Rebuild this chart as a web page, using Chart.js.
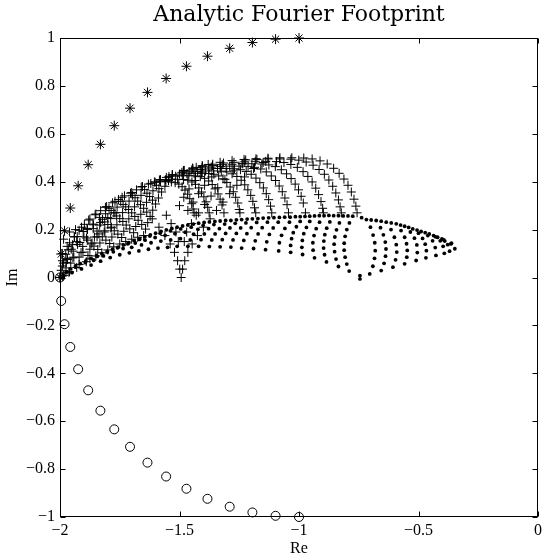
<!DOCTYPE html>
<html>
<head>
<meta charset="utf-8">
<script src="https://cdn.jsdelivr.net/npm/chart.js@4/dist/chart.umd.min.js"></script>
<style>
  html, body { margin: 0; padding: 0; background: #fff; }
  #c { display: block; }
</style>
</head>
<body>
<canvas id="c" width="546" height="560"></canvas>
<script>
// ---- tick labels ----
const xTicks = [-2, -1.5, -1, -0.5, 0];
const yTicks = [-1, -0.8, -0.6, -0.4, -0.2, 0, 0.2, 0.4, 0.6, 0.8, 1];

// ---- '*' series (upper quarter circle) ----
const starPts = [[-2,0],[-1.995,0.098],[-1.981,0.195],[-1.957,0.29],[-1.924,0.383],[-1.882,0.471],[-1.831,0.556],[-1.773,0.634],[-1.707,0.707],[-1.634,0.773],[-1.556,0.831],[-1.471,0.882],[-1.383,0.924],[-1.29,0.957],[-1.195,0.981],[-1.098,0.995],[-1,1]];
// ---- 'o' series (lower quarter circle) ----
const circlePts = [[-2,0],[-1.995,-0.098],[-1.981,-0.195],[-1.957,-0.29],[-1.924,-0.383],[-1.882,-0.471],[-1.831,-0.556],[-1.773,-0.634],[-1.707,-0.707],[-1.634,-0.773],[-1.556,-0.831],[-1.471,-0.882],[-1.383,-0.924],[-1.29,-0.957],[-1.195,-0.981],[-1.098,-0.995],[-1,-1]];

// ---- '+' series ----
const plusEnvelope = [[-1.99,0.07],[-1.97,0.13],[-1.94,0.17],[-1.91,0.21],[-1.88,0.24],[-1.85,0.265],[-1.81,0.293],[-1.77,0.318],[-1.74,0.335],[-1.70,0.355],[-1.66,0.378],[-1.62,0.393],[-1.58,0.408],[-1.53,0.428],[-1.48,0.447],[-1.43,0.46],[-1.38,0.472],[-1.33,0.481],[-1.28,0.488],[-1.23,0.493],[-1.18,0.496],[-1.13,0.498],[-1.08,0.5],[-1.03,0.5],[-0.98,0.499],[-0.945,0.495],[-0.912,0.487],[-0.882,0.474],[-0.855,0.456],[-0.832,0.435],[-0.812,0.411],[-0.795,0.385],[-0.781,0.357],[-0.77,0.327],[-0.762,0.298],[-0.757,0.27]];
const plusArcsA = [
 [-1.223,0.491],[-1.176,0.493],[-1.129,0.495],[-1.081,0.495],[-1.034,0.494],[-1.001,0.49],[-0.97,0.482],[-0.941,0.469],[-0.916,0.451],[-0.894,0.431],[-0.875,0.407],[-0.859,0.381],[-0.846,0.353],[-0.835,0.324],[-0.828,0.295],[-0.823,0.27],
 [-1.405,0.467],[-1.361,0.473],[-1.316,0.478],[-1.272,0.481],[-1.227,0.483],[-1.183,0.485],[-1.139,0.485],[-1.094,0.484],[-1.063,0.48],[-1.034,0.472],[-1.007,0.46],[-0.983,0.442],[-0.963,0.422],[-0.945,0.399],[-0.93,0.373],[-0.918,0.346],[-0.908,0.317],[-0.901,0.289],[-0.898,0.27],
 [-1.445,0.457],[-1.404,0.464],[-1.362,0.468],[-1.321,0.471],[-1.28,0.473],[-1.238,0.475],[-1.197,0.475],[-1.155,0.474],[-1.126,0.47],[-1.099,0.463],[-1.074,0.45],[-1.052,0.433],[-1.033,0.413],[-1.016,0.39],[-1.002,0.366],[-0.991,0.339],[-0.982,0.311],[-0.973,0.27],
 [-1.483,0.447],[-1.444,0.454],[-1.406,0.458],[-1.367,0.461],[-1.328,0.463],[-1.29,0.465],[-1.251,0.465],[-1.213,0.464],[-1.186,0.46],[-1.16,0.453],[-1.137,0.441],[-1.116,0.424],[-1.098,0.405],[-1.083,0.382],[-1.07,0.358],[-1.059,0.332],[-1.05,0.304],[-1.044,0.27],
 [-1.484,0.444],[-1.449,0.449],[-1.413,0.451],[-1.377,0.453],[-1.341,0.455],[-1.305,0.455],[-1.27,0.454],[-1.245,0.45],[-1.221,0.443],[-1.2,0.431],[-1.18,0.415],[-1.164,0.396],[-1.149,0.374],[-1.137,0.35],[-1.127,0.325],[-1.119,0.298],[-1.114,0.27]
];
const plusArcsB = [
 [-1.49,0.439],[-1.457,0.441],[-1.424,0.443],[-1.391,0.445],[-1.358,0.445],[-1.325,0.444],[-1.302,0.441],[-1.28,0.433],[-1.26,0.422],[-1.242,0.406],[-1.227,0.387],[-1.214,0.366],[-1.202,0.343],[-1.193,0.318],[-1.186,0.291],[-1.181,0.27],
 [-1.53,0.429],[-1.5,0.432],[-1.469,0.433],[-1.439,0.435],[-1.408,0.435],[-1.378,0.434],[-1.356,0.431],[-1.336,0.424],[-1.318,0.412],[-1.302,0.397],[-1.288,0.378],[-1.275,0.358],[-1.265,0.335],[-1.256,0.311],[-1.25,0.284],[-1.247,0.27],
 [-1.544,0.422],[-1.516,0.423],[-1.488,0.425],[-1.461,0.425],[-1.433,0.424],[-1.413,0.421],[-1.395,0.414],[-1.378,0.403],[-1.363,0.388],[-1.351,0.37],[-1.339,0.349],[-1.33,0.327],[-1.322,0.303],[-1.314,0.27],
 [-1.584,0.407],[-1.559,0.408],[-1.534,0.41],[-1.508,0.41],[-1.483,0.409],[-1.465,0.406],[-1.448,0.399],[-1.433,0.389],[-1.419,0.374],[-1.408,0.357],[-1.398,0.337],[-1.389,0.316],[-1.382,0.293],[-1.376,0.27],
 [-1.602,0.398],[-1.58,0.4],[-1.557,0.4],[-1.534,0.399],[-1.518,0.396],[-1.503,0.39],[-1.489,0.379],[-1.477,0.365],[-1.466,0.348],[-1.457,0.329],[-1.449,0.308],[-1.443,0.286],[-1.439,0.27]
];
const plusRising = [
 [-1.372,0.245],[-1.345,0.28],[-1.318,0.315],[-1.29,0.35],[-1.26,0.385],[-1.228,0.42],[-1.19,0.455],[-1.15,0.48],
 [-1.42,0.27],[-1.395,0.305],[-1.368,0.34],[-1.34,0.375],[-1.31,0.41],[-1.275,0.445],[-1.235,0.475],
 [-1.465,0.28],[-1.443,0.315],[-1.42,0.35],[-1.395,0.385],[-1.365,0.42],[-1.33,0.455],
 [-1.5,0.3],[-1.482,0.335],[-1.46,0.37],[-1.435,0.405],[-1.405,0.44]
];
const plusLeft = [
 [-1.53,0.428],[-1.546,0.405],[-1.561,0.381],[-1.575,0.357],[-1.588,0.332],[-1.6,0.307],[-1.612,0.281],[-1.623,0.255],[-1.633,0.229],[-1.642,0.202],[-1.65,0.175],
 [-1.58,0.408],[-1.596,0.385],[-1.611,0.362],[-1.625,0.338],[-1.638,0.314],[-1.65,0.289],[-1.662,0.264],[-1.673,0.239],[-1.683,0.213],[-1.692,0.187],[-1.70,0.16],
 [-1.63,0.39],[-1.646,0.367],[-1.661,0.343],[-1.675,0.319],[-1.688,0.295],[-1.7,0.27],[-1.712,0.245],[-1.723,0.219],[-1.733,0.193],[-1.742,0.167],[-1.75,0.14],
 [-1.68,0.366],[-1.696,0.343],[-1.711,0.319],[-1.725,0.295],[-1.738,0.271],[-1.75,0.246],[-1.762,0.22],[-1.773,0.195],[-1.783,0.169],[-1.792,0.142],[-1.80,0.115],
 [-1.73,0.341],[-1.746,0.318],[-1.761,0.294],[-1.775,0.27],[-1.788,0.246],[-1.8,0.221],[-1.812,0.195],[-1.823,0.17],[-1.833,0.144],[-1.842,0.117],[-1.85,0.09],
 [-1.78,0.312],[-1.795,0.289],[-1.809,0.266],[-1.822,0.243],[-1.834,0.219],[-1.845,0.194],[-1.856,0.169],[-1.866,0.144],[-1.875,0.118],[-1.883,0.092],[-1.89,0.066],
 [-1.83,0.279],[-1.862,0.223],[-1.889,0.165],[-1.912,0.104],[-1.93,0.042],
 [-1.875,0.244],[-1.903,0.192],[-1.927,0.138],[-1.946,0.082],[-1.96,0.024],
 [-1.92,0.197],[-1.948,0.137],[-1.969,0.075],[-1.985,0.009],
 [-1.96,0.145],[-1.976,0.097],[-1.99,0.048],[-2.0,0.0]
];
const plusLeftB = [
 [-1.555,0.418],[-1.586,0.371],[-1.613,0.323],[-1.637,0.273],[-1.658,0.221],[-1.675,0.168],
 [-1.605,0.399],[-1.636,0.352],[-1.663,0.304],[-1.687,0.255],[-1.708,0.203],[-1.725,0.15],
 [-1.655,0.38],[-1.686,0.333],[-1.713,0.284],[-1.737,0.234],[-1.758,0.181],[-1.775,0.128],
 [-1.705,0.352],[-1.736,0.305],[-1.763,0.257],[-1.787,0.207],[-1.808,0.156],[-1.825,0.103],
 [-1.755,0.326],[-1.786,0.28],[-1.813,0.232],[-1.837,0.182],[-1.858,0.131],[-1.875,0.078],
 [-1.805,0.296],[-1.835,0.251],[-1.861,0.204],[-1.884,0.156],[-1.904,0.106],[-1.92,0.054],
 [-1.853,0.262],[-1.887,0.205],[-1.917,0.146],[-1.942,0.085],[-1.963,0.022],
 [-1.898,0.222],[-1.928,0.171],[-1.953,0.118],[-1.974,0.063],[-1.99,0.006],
 [-1.94,0.17],[-1.965,0.116],[-1.985,0.06]
];
const plusEdge = [
 [-1.995,0.03],[-1.99,0.1],[-1.985,0.16],[-1.975,0.04],[-1.97,0.08],[-1.96,0.19],[-1.955,0.06],[-1.945,0.11],[-1.935,0.2],[-1.93,0.15],[-1.92,0.085],[-1.905,0.13],[-1.9,0.17],[-1.885,0.2],[-1.87,0.14],[-1.86,0.22],[-1.845,0.17],[-1.83,0.23],[-1.815,0.19],[-1.8,0.25],[-1.785,0.21],[-1.77,0.27]
];
const plusCusp = [
 [-1.493,0],[-1.487,0.035],[-1.478,0.07],[-1.465,0.105],[-1.447,0.14],[-1.425,0.175],[-1.40,0.21],
 [-1.499,0.035],[-1.508,0.07],[-1.521,0.105],[-1.539,0.14],[-1.561,0.175],[-1.586,0.21],[-1.614,0.245],
 [-1.48,0.15],[-1.505,0.15],[-1.47,0.19],[-1.515,0.19],[-1.45,0.225],[-1.535,0.225],[-1.43,0.26],[-1.555,0.26]
];

// ---- '.' series ----
const dotRight = [
 [-0.718,0.242],[-0.701,0.21],[-0.69,0.177],[-0.683,0.145],[-0.681,0.112],[-0.684,0.08],[-0.691,0.047],[-0.704,0.015],
 [-0.677,0.238],[-0.659,0.208],[-0.647,0.178],[-0.639,0.148],[-0.636,0.119],[-0.638,0.089],[-0.644,0.059],[-0.656,0.029],
 [-0.635,0.231],[-0.615,0.2],[-0.601,0.168],[-0.593,0.137],[-0.591,0.106],[-0.596,0.074],[-0.607,0.043],
 [-0.593,0.224],[-0.573,0.196],[-0.558,0.168],[-0.55,0.141],[-0.547,0.113],[-0.549,0.085],[-0.558,0.057],
 [-0.558,0.214],[-0.534,0.19],[-0.517,0.164],[-0.507,0.136],[-0.505,0.104],[-0.51,0.071],
 [-0.524,0.203],[-0.5,0.185],[-0.483,0.163],[-0.472,0.139],[-0.467,0.112],[-0.469,0.082],
 [-0.489,0.192],[-0.461,0.175],[-0.441,0.153],[-0.43,0.125],[-0.427,0.092],
 [-0.455,0.182],[-0.429,0.17],[-0.409,0.153],[-0.397,0.13],[-0.392,0.101],
 [-0.42,0.168],[-0.394,0.157],[-0.378,0.137],[-0.37,0.11],
 [-0.39,0.152],[-0.362,0.143],[-0.348,0.12],
 [-0.745,0.008],[-0.745,-0.006]
];
const dotLeftNear = [
 [-0.775,0.256],[-0.789,0.228],[-0.8,0.2],[-0.807,0.172],[-0.811,0.143],[-0.811,0.114],[-0.807,0.085],[-0.8,0.056],[-0.79,0.027],
 [-0.815,0.257],[-0.831,0.228],[-0.843,0.199],[-0.85,0.169],[-0.853,0.139],[-0.851,0.108],[-0.845,0.077],[-0.835,0.046],
 [-0.855,0.258],[-0.871,0.232],[-0.884,0.206],[-0.892,0.179],[-0.896,0.152],[-0.897,0.123],[-0.893,0.095],[-0.885,0.065],
 [-0.895,0.258],[-0.914,0.231],[-0.928,0.204],[-0.937,0.175],[-0.942,0.145],[-0.941,0.114],[-0.935,0.082],
 [-0.935,0.257],[-0.955,0.234],[-0.969,0.209],[-0.98,0.183],[-0.986,0.155],[-0.988,0.126],[-0.985,0.096],
 [-0.975,0.255],[-0.995,0.234],[-1.011,0.212],[-1.024,0.187],[-1.031,0.162],[-1.035,0.134],[-1.035,0.105],
 [-1.015,0.254],[-1.04,0.231],[-1.059,0.205],[-1.073,0.176],[-1.082,0.145],[-1.085,0.111],
 [-1.06,0.252],[-1.087,0.231],[-1.108,0.207],[-1.124,0.18],[-1.135,0.149],[-1.14,0.116],
 [-1.105,0.25],[-1.132,0.231],[-1.154,0.208],[-1.171,0.182],[-1.183,0.153],[-1.19,0.121],
 [-1.15,0.248],[-1.177,0.23],[-1.2,0.208],[-1.218,0.183],[-1.231,0.155],[-1.24,0.123]
];
const dotLeftFar = [
 [-1.195,0.245],[-1.222,0.228],[-1.244,0.207],[-1.262,0.184],[-1.276,0.157],[-1.285,0.127],
 [-1.24,0.242],[-1.267,0.226],[-1.289,0.207],[-1.307,0.184],[-1.321,0.158],[-1.33,0.128],
 [-1.285,0.238],[-1.311,0.223],[-1.333,0.204],[-1.351,0.182],[-1.365,0.157],[-1.375,0.129],
 [-1.33,0.236],[-1.356,0.221],[-1.378,0.204],[-1.396,0.182],[-1.41,0.158],[-1.42,0.13],
 [-1.375,0.232],[-1.401,0.218],[-1.423,0.201],[-1.441,0.181],[-1.455,0.157],[-1.465,0.13],
 [-1.42,0.227],[-1.451,0.21],[-1.476,0.189],[-1.496,0.162],[-1.51,0.13],
 [-1.465,0.219],[-1.495,0.203],[-1.519,0.183],[-1.537,0.157],[-1.55,0.126],
 [-1.51,0.21],[-1.538,0.195],[-1.56,0.176],[-1.578,0.152],[-1.59,0.123],
 [-1.555,0.199],[-1.581,0.185],[-1.602,0.167],[-1.619,0.145],[-1.63,0.118],
 [-1.6,0.185],[-1.624,0.173],[-1.644,0.156],[-1.659,0.136],[-1.67,0.111],
 [-1.645,0.17],[-1.667,0.159],[-1.685,0.144],[-1.7,0.126],[-1.71,0.103],
 [-1.69,0.154],[-1.716,0.141],[-1.736,0.121],[-1.75,0.095],
 [-1.735,0.136],[-1.759,0.124],[-1.777,0.107],[-1.79,0.083],
 [-1.78,0.118],[-1.802,0.106],[-1.818,0.09],[-1.83,0.068],
 [-1.825,0.1],[-1.844,0.088],[-1.859,0.072],[-1.87,0.052],
 [-1.87,0.08],[-1.894,0.062],[-1.91,0.036],
 [-1.915,0.058],[-1.935,0.043],[-1.95,0.02],
 [-1.955,0.036],[-1.972,0.024],[-1.985,0.008]
];
const dotTop = [
 [-0.738,0.25],[-0.698,0.24],[-0.656,0.235],[-0.614,0.228],[-0.575,0.219],[-0.541,0.209],[-0.506,0.198],[-0.472,0.187],[-0.437,0.175],[-0.402,0.161],[-0.365,0.14],
 [-0.795,0.257],[-0.835,0.258],[-0.875,0.259],[-0.915,0.258],[-0.955,0.256],[-0.995,0.254],[-1.037,0.252],[-1.082,0.251],[-1.127,0.249],[-1.172,0.246],[-1.217,0.244],[-1.262,0.241],[-1.307,0.238],[-1.352,0.234],[-1.397,0.23],[-1.442,0.223],[-1.487,0.215],[-1.532,0.205],[-1.577,0.193],[-1.622,0.178],[-1.667,0.162],[-1.712,0.145],[-1.757,0.127],[-1.802,0.109],[-1.847,0.091],[-1.892,0.069],[-1.935,0.048],[-1.975,0.02]
];

// ---- build ----
const toXY = arr => arr.map(p => ({x: p[0], y: p[1]}));
const fmt = v => { const r = Math.round(v * 10) / 10; return (r < 0 ? '\u2212' : '') + String(Math.abs(r)); };
const tickFont = {family: 'Liberation Serif', size: 16};
const labelFont = {family: 'Liberation Serif', size: 16};

const framePlugin = {
  id: 'frame',
  beforeDatasetsDraw(chart) {
    const {ctx, chartArea: a, scales} = chart;
    const L = Math.round(a.left) + 0.5, R = Math.round(a.right) - 0.5;
    const T = Math.round(a.top) + 0.5, B = Math.round(a.bottom) - 0.5;
    ctx.save();
    ctx.strokeStyle = '#000';
    ctx.lineWidth = 1;
    ctx.strokeRect(L, T, R - L, B - T);
    ctx.beginPath();
    xTicks.forEach(v => {
      const p = Math.round(scales.x.getPixelForValue(v)) + 0.5;
      ctx.moveTo(p, B); ctx.lineTo(p, B - 5);
      ctx.moveTo(p, T); ctx.lineTo(p, T + 5);
    });
    yTicks.forEach(v => {
      const p = Math.round(scales.y.getPixelForValue(v)) + 0.5;
      ctx.moveTo(L, p); ctx.lineTo(L + 5, p);
      ctx.moveTo(R, p); ctx.lineTo(R - 5, p);
    });
    ctx.stroke();
    ctx.restore();
  }
};

const dotStyle = {pointStyle: 'circle', pointRadius: 1.9, pointBackgroundColor: '#000', pointBorderWidth: 0, showLine: false, clip: false};
const plusStyle = {pointStyle: 'cross', pointRadius: 4.5, pointBorderColor: '#000', pointBorderWidth: 1, showLine: false, clip: false};

new Chart(document.getElementById('c'), {
  type: 'scatter',
  data: {
    datasets: [
      Object.assign({label: 'dots A', data: toXY(dotRight)}, dotStyle),
      Object.assign({label: 'dots B', data: toXY(dotLeftNear)}, dotStyle),
      Object.assign({label: 'dots C', data: toXY(dotLeftFar)}, dotStyle),
      Object.assign({label: 'dots D', data: toXY(dotTop)}, dotStyle),
      Object.assign({label: 'plus A', data: toXY(plusEnvelope)}, plusStyle),
      Object.assign({label: 'plus B', data: toXY(plusArcsA)}, plusStyle),
      Object.assign({label: 'plus C', data: toXY(plusArcsB)}, plusStyle),
      Object.assign({label: 'plus D', data: toXY(plusRising)}, plusStyle),
      Object.assign({label: 'plus E', data: toXY(plusLeft)}, plusStyle),
      Object.assign({label: 'plus F', data: toXY(plusLeftB)}, plusStyle),
      Object.assign({label: 'plus G', data: toXY(plusEdge)}, plusStyle),
      Object.assign({label: 'plus H', data: toXY(plusCusp)}, plusStyle),
      {label: 'stars', data: toXY(starPts), pointStyle: 'star', pointRadius: 5, pointBorderColor: '#000', pointBorderWidth: 1, showLine: false, clip: false},
      {label: 'circles', data: toXY(circlePts), pointStyle: 'circle', pointRadius: 4.5, pointBackgroundColor: 'rgba(0,0,0,0)', pointBorderColor: '#000', pointBorderWidth: 1, showLine: false, clip: false}
    ]
  },
  options: {
    responsive: false,
    animation: false,
    devicePixelRatio: 1,
    layout: {padding: {left: 0, right: 5, top: 0, bottom: 0}},
    plugins: {
      legend: {display: false},
      tooltip: {enabled: false},
      title: {
        display: true,
        fullSize: false,
        text: 'Analytic Fourier Footprint',
        color: '#000',
        font: {family: 'DejaVu Serif', size: 22, weight: 'normal', lineHeight: 1.2},
        padding: {top: 2, bottom: 9.6}
      }
    },
    scales: {
      x: {
        type: 'linear', min: -2, max: 0,
        afterBuildTicks: s => { s.ticks = xTicks.map(v => ({value: v})); },
        afterFit: s => { s.height = 43; },
        grid: {display: false, drawTicks: false},
        border: {display: false},
        ticks: {callback: fmt, font: tickFont, color: '#000', padding: 4, maxRotation: 0, autoSkip: false},
        title: {display: true, text: 'Re', color: '#000', font: labelFont, padding: {top: 0, bottom: 2}}
      },
      y: {
        type: 'linear', min: -1, max: 1,
        afterBuildTicks: s => { s.ticks = yTicks.map(v => ({value: v})); },
        afterFit: s => { s.width = 60; },
        grid: {display: false, drawTicks: false},
        border: {display: false},
        ticks: {callback: fmt, font: tickFont, color: '#000', padding: 5, autoSkip: false},
        title: {display: true, text: 'Im', color: '#000', font: labelFont, padding: {top: 3, bottom: 0}}
      }
    }
  },
  plugins: [framePlugin]
});
</script>
</body>
</html>
